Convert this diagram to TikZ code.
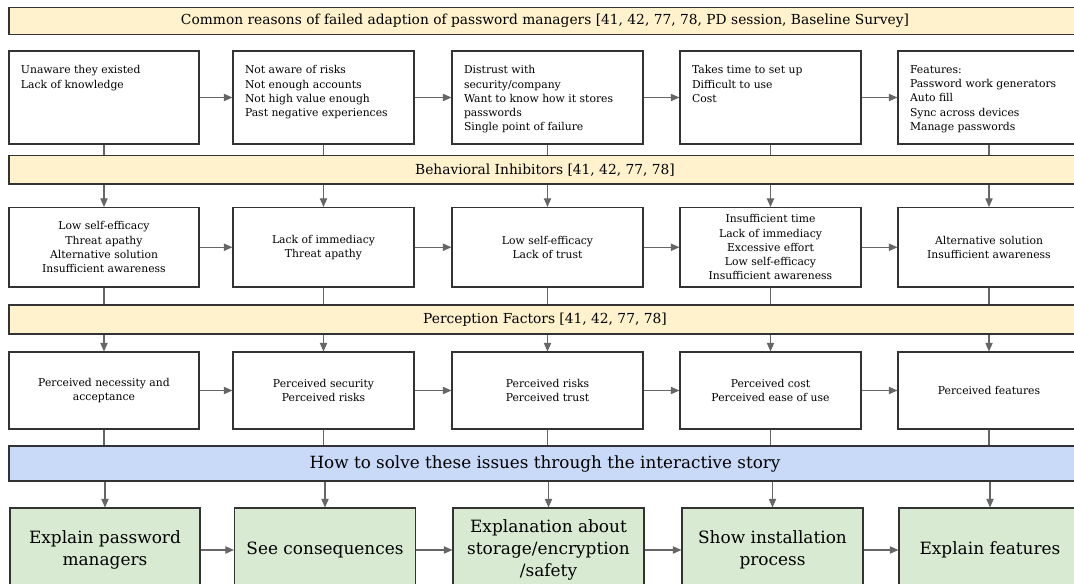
\documentclass[tikz,border=0pt]{standalone}
\usepackage{fontspec}
\setmainfont{DejaVu Serif}
\usetikzlibrary{arrows.meta}
\definecolor{ylw}{HTML}{FFF2CC}
\definecolor{blu}{HTML}{C9DAF8}
\definecolor{grn}{HTML}{D9EAD3}
\definecolor{bord}{HTML}{333333}
\definecolor{conn}{HTML}{666666}
\newcommand\tbox[3]{\parbox[c][#2][t]{#1}{\vspace*{11pt}\raggedright\leftskip=9pt\relax #3\par}}
\begin{document}
\begin{tikzpicture}[x=0.75pt,y=-0.75pt,
  box/.style={draw=bord, line width=0.8pt, fill=white, inner sep=0pt, align=center,
    font=\fontsize{8.1}{10.66}\selectfont},
  banner/.style={draw=bord, line width=0.8pt, fill=ylw, inner sep=0pt,
    minimum width=804pt, font=\fontsize{10.35}{12}\selectfont},
  solve/.style={draw=bord, line width=0.8pt, fill=blu, inner sep=0pt,
    minimum width=804pt, minimum height=26.25pt, font=\fontsize{12.6}{15}\selectfont},
  act/.style={draw=bord, line width=0.8pt, fill=grn, inner sep=0pt, align=center,
    minimum height=63pt, font=\fontsize{12.7}{16.8}\selectfont},
  wA/.style={minimum width=142.5pt}, wB/.style={minimum width=135.75pt},
  wC/.style={minimum width=143.25pt}, wD/.style={minimum width=135.75pt},
  wE/.style={minimum width=136.5pt},
  hA/.style={minimum height=69.75pt}, hB/.style={minimum height=59.6pt},
  hC/.style={minimum height=57.75pt},
  arr/.style={draw=conn, line width=0.8pt, -{Triangle[length=6.5pt,width=5.5pt]}},
  ln/.style={draw=conn, line width=0.8pt}
]
\useasboundingbox (0,0) rectangle (1074,584);
\clip (0,0) rectangle (1074,584);
\fill[white] (0,0) rectangle (1074,584);

% banners
\node[banner, minimum height=20.25pt] (b1) at (545,21) {Common reasons of failed adaption of password managers [41, 42, 77, 78, PD session, Baseline Survey]};
\node[banner, minimum height=21.4pt] (b2) at (545,169.75) {Behavioral Inhibitors [41, 42, 77, 78]};
\node[banner, minimum height=21.75pt] (b3) at (545,319.5) {Perception Factors [41, 42, 77, 78]};
\node[solve] (b4) at (545,463.5) {How to solve these issues through the interactive story};

% row 1
\node[box, wA, hA] (r1a) at (104,97.5) {\tbox{142.5pt}{69.75pt}{Unaware they existed\\Lack of knowledge}};
\node[box, wB, hA] (r1b) at (323.5,97.5) {\tbox{135.75pt}{69.75pt}{Not aware of risks\\Not enough accounts\\Not high value enough\\Past negative experiences}};
\node[box, wC, hA] (r1c) at (547.5,97.5) {\tbox{143.25pt}{69.75pt}{Distrust with\\security/company\\Want to know how it stores\\passwords\\Single point of failure}};
\node[box, wD, hA] (r1d) at (770.5,97.5) {\tbox{135.75pt}{69.75pt}{Takes time to set up\\Difficult to use\\Cost}};
\node[box, wE, hA] (r1e) at (989,97.5) {\tbox{136.5pt}{69.75pt}{Features:\\Password work generators\\Auto fill\\Sync across devices\\Manage passwords}};

% row 2
\node[box, wA, hB] (r2a) at (104,247.25) {Low self-efficacy\\Threat apathy\\Alternative solution\\Insufficient awareness};
\node[box, wB, hB] (r2b) at (323.5,247.25) {Lack of immediacy\\Threat apathy};
\node[box, wC, hB] (r2c) at (547.5,247.25) {Low self-efficacy\\Lack of trust};
\node[box, wD, hB] (r2d) at (770.5,247.25) {Insufficient time\\Lack of immediacy\\Excessive effort\\Low self-efficacy\\Insufficient awareness};
\node[box, wE, hB] (r2e) at (989,247.25) {Alternative solution\\Insufficient awareness};

% row 3
\node[box, wA, hC] (r3a) at (104,390.5) {Perceived necessity and\\acceptance};
\node[box, wB, hC] (r3b) at (323.5,390.5) {Perceived security\\Perceived risks};
\node[box, wC, hC] (r3c) at (547.5,390.5) {Perceived risks\\Perceived trust};
\node[box, wD, hC] (r3d) at (770.5,390.5) {Perceived cost\\Perceived ease of use};
\node[box, wE, hC] (r3e) at (989,390.5) {Perceived features};

% row 4
\node[act, wA] (r4a) at (105,550) {Explain password\\managers};
\node[act, wB] (r4b) at (325,550) {See consequences};
\node[act, wC] (r4c) at (548.5,550) {Explanation about\\storage/encryption\\/safety};
\node[act, wD] (r4d) at (772.5,550) {Show installation\\process};
\node[act, wE] (r4e) at (990,550) {Explain features};

% horizontal arrows
\foreach \r in {r1,r2,r3,r4}{
  \draw[arr] (\r a.east) -- (\r b.west);
  \draw[arr] (\r b.east) -- (\r c.west);
  \draw[arr] (\r c.east) -- (\r d.west);
  \draw[arr] (\r d.east) -- (\r e.west);
}
% vertical connectors
\foreach \c in {a,b,c,d,e}{
  \draw[ln] (r1\c.south) -- (r1\c.south |- b2.north);
  \draw[arr] (r2\c.north |- b2.south) -- (r2\c.north);
  \draw[ln] (r2\c.south) -- (r2\c.south |- b3.north);
  \draw[arr] (r3\c.north |- b3.south) -- (r3\c.north);
  \draw[ln] (r3\c.south) -- (r3\c.south |- b4.north);
  \draw[arr] (r4\c.north |- b4.south) -- (r4\c.north);
}
\end{tikzpicture}
\end{document}
